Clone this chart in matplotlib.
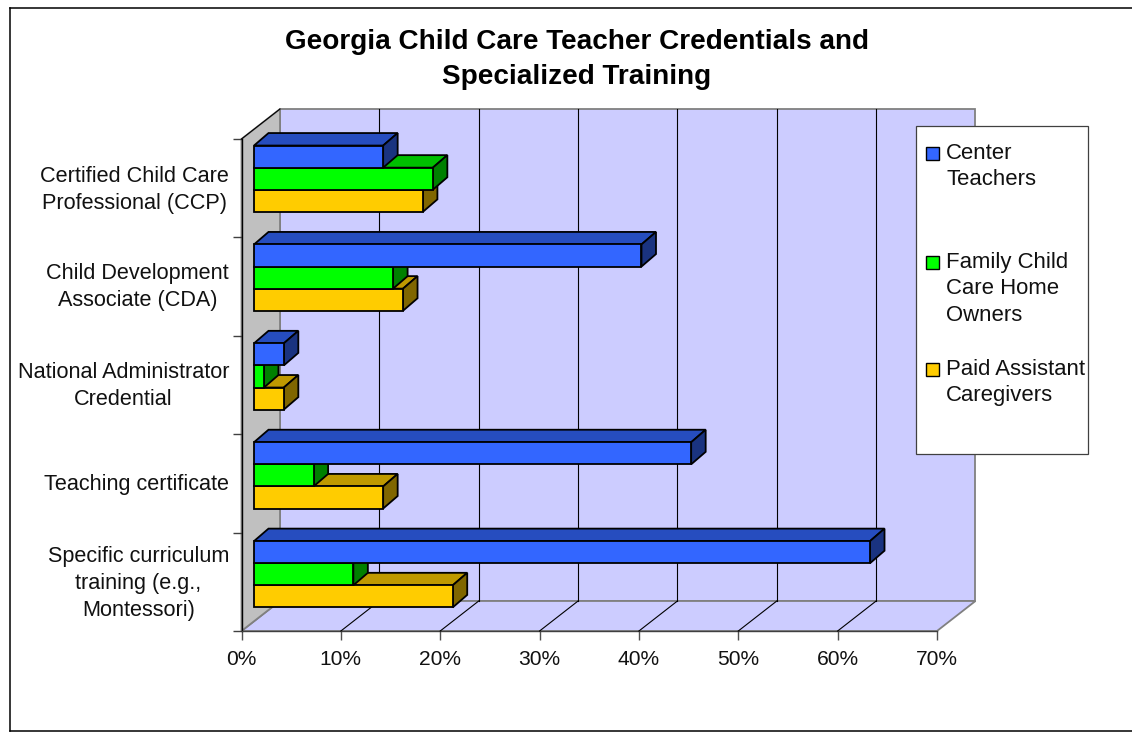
import matplotlib
matplotlib.use('Agg')
import matplotlib.pyplot as plt
from matplotlib.patches import Polygon, Rectangle
from matplotlib.lines import Line2D

plt.rcParams['font.family'] = ['Liberation Sans', 'DejaVu Sans']

categories = ['Certified Child Care\nProfessional (CCP)', 'Child Development\nAssociate (CDA)',
              'National Administrator\nCredential', 'Teaching certificate',
              'Specific curriculum\ntraining (e.g.,\nMontessori)']
center_teachers = [13, 39, 3, 44, 62]
family_owners = [18, 14, 1, 6, 10]
paid_assistants = [17, 15, 3, 13, 20]
series_labels = ['Center\nTeachers', 'Family Child\nCare Home\nOwners', 'Paid Assistant\nCaregivers']
x_ticks = [0, 10, 20, 30, 40, 50, 60, 70]

W, H = 1132, 732
x0_px, x70_px = 241.5, 937.0
ytop_px, ybot_px = 139.0, 631.0
px_x = (x70_px - x0_px) / 70
px_y = (ybot_px - ytop_px) / 5

# oblique depth of the fake 3d box, in data units
wall_dx, wall_dy = 38.5 / px_x, 30 / px_y
bar_x0, bar_up = 12.5 / px_x, 9.5 / px_y
bar_dx, bar_dy = 14.5 / px_x, 12.5 / px_y
bar_h = 22.1 / px_y
bar_pitch = 1.005
label_pos = [0.465, 1.445, 2.45, 3.49, 4.465]

colors = [('#3366FF', '#264DBF', '#1A3380'),
          ('#00FF00', '#00BF00', '#008000'),
          ('#FFCC00', '#BF9900', '#806600')]

fig = plt.figure(figsize=(W / 100, H / 100), dpi=100)
ax = fig.add_axes([x0_px / W, 1 - ybot_px / H, (x70_px - x0_px) / W, (ybot_px - ytop_px) / H])
ax.set_xlim(0, 70)
ax.set_ylim(5, 0)
ax.patch.set_visible(False)
for spine in ax.spines.values():
    spine.set_visible(False)


def poly(points, face, edge='black', lw=1.3, z=3):
    ax.add_patch(Polygon(points, closed=True, facecolor=face, edgecolor=edge, linewidth=lw,
                         joinstyle='miter', clip_on=False, zorder=z))


def line(xs, ys, color='black', lw=0.8, z=2):
    ax.add_line(Line2D(xs, ys, color=color, linewidth=lw, clip_on=False, zorder=z))


# back wall, floor, side wall
poly([(wall_dx, -wall_dy), (70 + wall_dx, -wall_dy), (70 + wall_dx, 5 - wall_dy), (wall_dx, 5 - wall_dy)],
     '#CCCCFF', '#808080', 1.3, 1)
poly([(0, 5), (70, 5), (70 + wall_dx, 5 - wall_dy), (wall_dx, 5 - wall_dy)], '#CCCCFF', '#808080', 1.3, 1)
poly([(0, 0), (wall_dx, -wall_dy), (wall_dx, 5 - wall_dy), (0, 5)], '#C0C0C0', '#808080', 1.3, 1)
line([0, wall_dx], [0, -wall_dy])
line([0, 0], [0, 5], lw=1.0)
line([0, 70], [5, 5], color='#404040', lw=1.0)

for tick in x_ticks[1:-1]:
    line([tick, tick + wall_dx], [5, 5 - wall_dy])
    line([tick + wall_dx, tick + wall_dx], [5 - wall_dy, -wall_dy])

# bars, lower series first so the upper one sits on top of it
all_series = [center_teachers, family_owners, paid_assistants]
for i in range(len(categories)):
    block_top = i * bar_pitch + 0.5 - bar_up - 1.5 * bar_h
    for j in [2, 1, 0]:
        value = all_series[j][i]
        front, top, side = colors[j]
        y1, y2 = block_top + j * bar_h, block_top + (j + 1) * bar_h
        x1, x2 = bar_x0, bar_x0 + value
        poly([(x1, y1), (x2, y1), (x2 + bar_dx, y1 - bar_dy), (x1 + bar_dx, y1 - bar_dy)], top, z=3)
        poly([(x2, y1), (x2 + bar_dx, y1 - bar_dy), (x2 + bar_dx, y2 - bar_dy), (x2, y2)], side, z=3)
        poly([(x1, y1), (x2, y1), (x2, y2), (x1, y2)], front, z=3)

ax.set_xticks(x_ticks, [f'{t}%' for t in x_ticks], fontsize=15.1, color='#111111')
ax.tick_params(axis='x', length=6.5, width=1.0, color='#505050', pad=7.5)
ax.set_yticks(range(6), [''] * 6)
ax.tick_params(axis='y', which='major', length=6.5, width=1.0, color='#404040')
ax.set_yticks(label_pos, categories, minor=True, fontsize=15.6, color='#111111')
ax.tick_params(axis='y', which='minor', length=0, pad=9)
for label in ax.get_yticklabels(minor=True):
    label.set_multialignment('center')
    label.set_linespacing(1.38)


def fx(x):
    return x / W


def fy(y):
    return 1 - y / H


fig.text(fx(577), fy(59.5), 'Georgia Child Care Teacher Credentials and\nSpecialized Training', ha='center',
         va='center', fontsize=20.1, fontweight='bold', color='black', linespacing=1.48)

# chart area border has no right side
fig.add_artist(Line2D([fx(9.5), fx(9.5)], [fy(8), fy(731)], color='black', linewidth=1.1))
fig.add_artist(Line2D([fx(9.5), fx(1132)], [fy(8), fy(8)], color='black', linewidth=1.1))
fig.add_artist(Line2D([fx(9.5), fx(1132)], [fy(731), fy(731)], color='black', linewidth=1.1))

# legend with uneven entry spacing
fig.add_artist(Rectangle((fx(916), fy(454)), fx(172), 328 / H, facecolor='white', edgecolor='#404040',
                         linewidth=0.9, zorder=5))
legend_y = [143, 252, 359]
for label, y, (front, _, _) in zip(series_labels, legend_y, colors):
    fig.add_artist(Rectangle((fx(926), fy(y + 17)), 13 / W, 13 / H, facecolor=front, edgecolor='black',
                             linewidth=1.0, zorder=6))
    fig.text(fx(946), fy(y), label, ha='left', va='top', fontsize=15.9, color='#111111', linespacing=1.33,
             zorder=6)

fig.savefig('out.png', dpi=100)
